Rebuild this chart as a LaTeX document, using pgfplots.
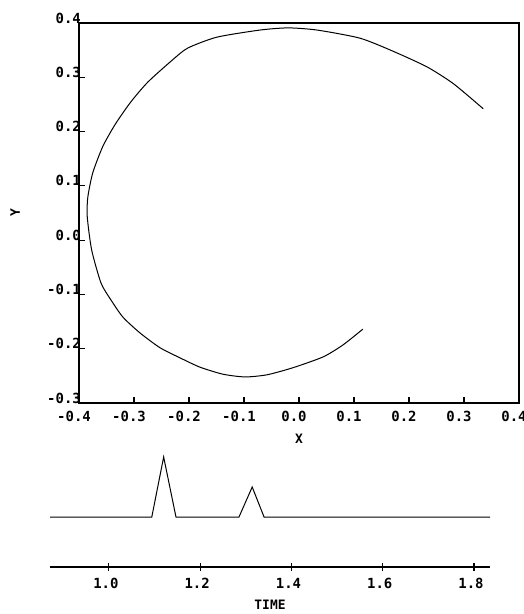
\documentclass[border=0pt]{standalone}
\usepackage{fontspec}
\setmainfont{DejaVu Sans Mono}
\usepackage{pgfplots}
\pgfplotsset{compat=1.18}

\begin{document}
\begin{tikzpicture}[x=1bp,y=1bp]
\path[use as bounding box] (0,0) rectangle (524,-614);

% X-Y trajectory
\begin{axis}[
    at={(79bp,-403bp)}, anchor=south west,
    scale only axis, width=440bp, height=380bp,
    xmin=-0.4, xmax=0.4, ymin=-0.3, ymax=0.4,
    axis line style={line width=1.4bp},
    xtick={-0.4,-0.3,-0.2,-0.1,0,0.1,0.2,0.3,0.4},
    xticklabels={-0.4,-0.3,-0.2,-0.1,0.0,0.1,0.2,0.3,0.4},
    ytick={-0.3,-0.2,-0.1,0,0.1,0.2,0.3,0.4},
    yticklabels={-0.3,-0.2,-0.1,0.0,0.1,0.2,0.3,0.4},
    xtick pos=bottom, ytick pos=left,
    tick align=inside,
    major tick length=6bp,
    tick style={line width=1.2bp, black},
    ticklabel style={font=\fontsize{14}{14}\selectfont\bfseries, inner sep=0pt},
    xticklabel style={anchor=north, yshift=-8bp, xshift=-5bp},
    yticklabel style={anchor=east, xshift=2bp, yshift=5bp},
    xlabel={X}, ylabel={Y},
    label style={font=\fontsize{13}{13}\selectfont\bfseries},
    xlabel style={at={(axis description cs:0.5,-0.095)}, anchor=center},
    ylabel style={at={(axis description cs:-0.145,0.5)}, anchor=center},
    clip=false,
]
\addplot[black, line width=1bp, smooth, tension=0.4] coordinates {
    (0.116,-0.164)(0.080,-0.193)(0.044,-0.215)(-0.011,-0.235)
    (-0.058,-0.248)(-0.098,-0.252)(-0.138,-0.247)(-0.180,-0.234)
    (-0.216,-0.217)(-0.253,-0.198)(-0.289,-0.171)(-0.320,-0.142)
    (-0.342,-0.110)(-0.360,-0.079)(-0.377,-0.018)(-0.385,0.043)
    (-0.384,0.079)(-0.375,0.124)(-0.357,0.172)(-0.335,0.212)
    (-0.307,0.253)(-0.275,0.291)(-0.230,0.332)(-0.202,0.354)
    (-0.149,0.374)(-0.071,0.387)(-0.020,0.391)(0.033,0.387)
    (0.111,0.372)(0.171,0.348)(0.233,0.319)(0.281,0.288)
    (0.335,0.242)
};
\end{axis}

% time trace
\begin{axis}[
    at={(50bp,-567bp)}, anchor=south west,
    scale only axis, width=440bp, height=110bp,
    xmin=0.871, xmax=1.835, ymin=-0.833, ymax=1,
    axis y line=none, axis x line*=bottom,
    x axis line style={-, line width=1.4bp},
    xtick={1.0,1.2,1.4,1.6,1.8},
    xticklabels={1.0,1.2,1.4,1.6,1.8},
    xtick align=center,
    major tick length=8bp,
    tick style={line width=1.2bp, black},
    ticklabel style={font=\fontsize{14}{14}\selectfont\bfseries, inner sep=0pt},
    xticklabel style={anchor=north, yshift=-7bp, xshift=-3bp},
    xlabel={TIME},
    label style={font=\fontsize{13}{13}\selectfont\bfseries},
    xlabel style={at={(axis description cs:0.5,-0.345)}, anchor=center},
    clip=false,
]
\addplot[black, line width=1bp] coordinates {
    (0.871,0)(1.094,0)(1.120,1)(1.147,0)(1.285,0)
    (1.314,0.5)(1.340,0)(1.835,0)
};
\end{axis}
\end{tikzpicture}
\end{document}
